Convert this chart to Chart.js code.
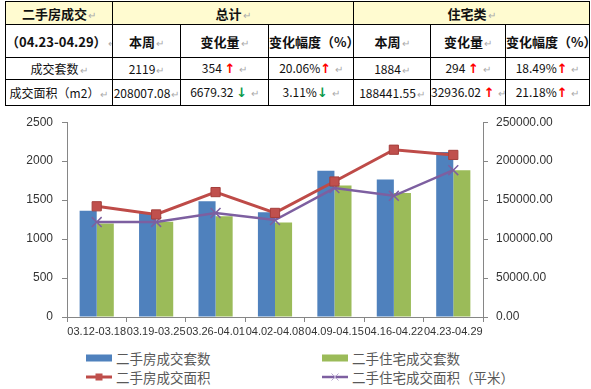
<!DOCTYPE html>
<html>
<head>
<meta charset="utf-8">
<script src="https://cdn.jsdelivr.net/npm/chart.js@4.4.0/dist/chart.umd.min.js"></script>
<style>
  body { margin: 0; width: 591px; height: 389px; background: #fff; position: relative; overflow: hidden; font-family: "Noto Sans CJK SC", sans-serif; }
  table { position: absolute; left: 5px; top: 1px; width: 584px; border-collapse: collapse; table-layout: fixed; }
  td { border: 1px solid #000; text-align: center; padding: 0; font-size: 12px; color: #111; white-space: nowrap; overflow: hidden; line-height: 1; }
  tr.head td { background: #fffbd0; font-weight: bold; font-size: 13px; }
  tr.sub td { font-weight: bold; font-size: 13px; }
  .p { color: #aaa; font-size: 10px; font-weight: normal; margin-left: 1px; }
  .up { color: #f00; font-family: "DejaVu Sans"; font-weight: bold; font-size: 13px; }
  .down { color: #0a9a4a; font-family: "DejaVu Sans"; font-weight: bold; font-size: 13px; }
  #wrap { position: absolute; left: 0; top: 106px; width: 591px; height: 240px; }
  .legend { position: absolute; font-size: 13.5px; color: #595959; display: flex; align-items: center; height: 18px; }
  .legend svg { margin-right: 3px; }
</style>
</head>
<body>
<table>
  <colgroup>
    <col style="width:107px"><col style="width:68px"><col style="width:88px"><col style="width:85px">
    <col style="width:77px"><col style="width:75px"><col style="width:84px">
  </colgroup>
  <tr class="head" style="height:23px">
    <td>二手房成交<span class="p">↵</span></td>
    <td colspan="3">总计<span class="p">↵</span></td>
    <td colspan="3">住宅类<span class="p">↵</span></td>
  </tr>
  <tr class="sub" style="height:33px">
    <td>（04.23-04.29）<span class="p">↵</span></td>
    <td>本周<span class="p">↵</span></td>
    <td>变化量<span class="p">↵</span></td>
    <td>变化幅度（%）<span class="p">↵</span></td>
    <td>本周<span class="p">↵</span></td>
    <td>变化量<span class="p">↵</span></td>
    <td>变化幅度（%）<span class="p">↵</span></td>
  </tr>
  <tr style="height:22px">
    <td>成交套数<span class="p">↵</span></td>
    <td>2119<span class="p">↵</span></td>
    <td>354 <span class="up">↑</span> <span class="p">↵</span></td>
    <td>20.06%<span class="up">↑</span> <span class="p">↵</span></td>
    <td>1884<span class="p">↵</span></td>
    <td>294 <span class="up">↑</span> <span class="p">↵</span></td>
    <td>18.49%<span class="up">↑</span> <span class="p">↵</span></td>
  </tr>
  <tr style="height:26px">
    <td>成交面积（m2）<span class="p">↵</span></td>
    <td>208007.08<span class="p">↵</span></td>
    <td>6679.32 <span class="down">↓</span> <span class="p">↵</span></td>
    <td>3.11%<span class="down">↓</span> <span class="p">↵</span></td>
    <td>188441.55<span class="p">↵</span></td>
    <td>32936.02 <span class="up">↑</span> <span class="p">↵</span></td>
    <td>21.18%<span class="up">↑</span> <span class="p">↵</span></td>
  </tr>
</table>

<div id="wrap"><canvas id="chart"></canvas></div>

<div class="legend" style="left:86px; top:349px;">
  <svg width="27" height="10"><rect x="0" y="1.5" width="26" height="7" fill="#4f81bd"/></svg>二手房成交套数
</div>
<div class="legend" style="left:322px; top:349px;">
  <svg width="27" height="10"><rect x="0" y="1.5" width="26" height="7" fill="#9bbb59"/></svg>二手住宅成交套数
</div>
<div class="legend" style="left:86px; top:368px;">
  <svg width="27" height="10"><line x1="0" y1="5" x2="26" y2="5" stroke="#be4b48" stroke-width="3"/><rect x="9.5" y="1.5" width="7" height="7" fill="#c0504d"/></svg>二手房成交面积
</div>
<div class="legend" style="left:322px; top:368px;">
  <svg width="27" height="10"><line x1="0" y1="5" x2="26" y2="5" stroke="#7d5fa0" stroke-width="2.5"/><path d="M9.5 1.5 L16.5 8.5 M16.5 1.5 L9.5 8.5" stroke="#b7a6d0" stroke-width="1"/></svg>二手住宅成交面积（平米）
</div>

<script>
const weeks = ['03.12-03.18', '03.19-03.25', '03.26-04.01', '04.02-04.08', '04.09-04.15', '04.16-04.22', '04.23-04.29'];
const totalUnits = [1362, 1336, 1485, 1345, 1876, 1765, 2119];
const homeUnits = [1199, 1222, 1294, 1214, 1688, 1590, 1884];
const totalArea = [142100, 131600, 160300, 133600, 173900, 214686.40, 208007.08];
const homeArea = [121800, 122000, 133600, 124400, 165400, 155505.53, 188441.55];
const unitsMax = 2500;
const areaMax = 250000;

const axisColor = '#868686';
const tickFont = { family: 'Liberation Sans', size: 12 };

new Chart(document.getElementById('chart'), {
  type: 'bar',
  data: {
    labels: weeks,
    datasets: [
      {
        type: 'line',
        label: '二手房成交面积',
        data: totalArea,
        yAxisID: 'y1',
        borderColor: '#be4b48',
        borderWidth: 3,
        pointStyle: 'rect',
        pointRadius: 6.5,
        pointBackgroundColor: '#c0504d',
        pointBorderColor: '#a53f3c',
        pointBorderWidth: 1,
        tension: 0,
        order: 0
      },
      {
        type: 'line',
        label: '二手住宅成交面积（平米）',
        data: homeArea,
        yAxisID: 'y1',
        borderColor: '#7d5fa0',
        borderWidth: 2.5,
        pointStyle: 'crossRot',
        pointRadius: 7,
        pointBorderColor: '#7d5fa0',
        pointBorderWidth: 1.5,
        tension: 0,
        order: 1
      },
      {
        label: '二手房成交套数',
        data: totalUnits,
        yAxisID: 'y',
        backgroundColor: '#4f81bd',
        barPercentage: 1,
        categoryPercentage: 0.575,
        order: 2
      },
      {
        label: '二手住宅成交套数',
        data: homeUnits,
        yAxisID: 'y',
        backgroundColor: '#9bbb59',
        barPercentage: 1,
        categoryPercentage: 0.575,
        order: 2
      }
    ]
  },
  options: {
    responsive: true,
    maintainAspectRatio: false,
    animation: false,
    layout: { padding: { top: 14, left: 0, right: 0, bottom: 0 } },
    plugins: { legend: { display: false }, tooltip: { enabled: false } },
    scales: {
      x: {
        grid: { offset: true, drawOnChartArea: false, tickLength: 5, color: axisColor },
        border: { color: axisColor },
        ticks: { maxRotation: 0, minRotation: 0, autoSkip: false, padding: 3, color: '#333', font: { family: 'Liberation Sans', size: 11 } },
        afterFit: (scale) => { scale.height = 29; }
      },
      y: {
        position: 'left',
        min: 0,
        max: unitsMax,
        grid: { drawOnChartArea: false, tickLength: 5, color: axisColor },
        border: { color: axisColor },
        ticks: { stepSize: 500, padding: 9, color: '#333', font: tickFont, callback: (v) => String(v) },
        afterFit: (scale) => { scale.width = 67; }
      },
      y1: {
        position: 'right',
        min: 0,
        max: areaMax,
        grid: { drawOnChartArea: false, tickLength: 5, color: axisColor },
        border: { color: axisColor },
        ticks: { stepSize: 50000, padding: 8, color: '#333', font: tickFont, callback: (v) => v.toFixed(2) },
        afterFit: (scale) => { scale.width = 108; }
      }
    }
  }
});
</script>
</body>
</html>
